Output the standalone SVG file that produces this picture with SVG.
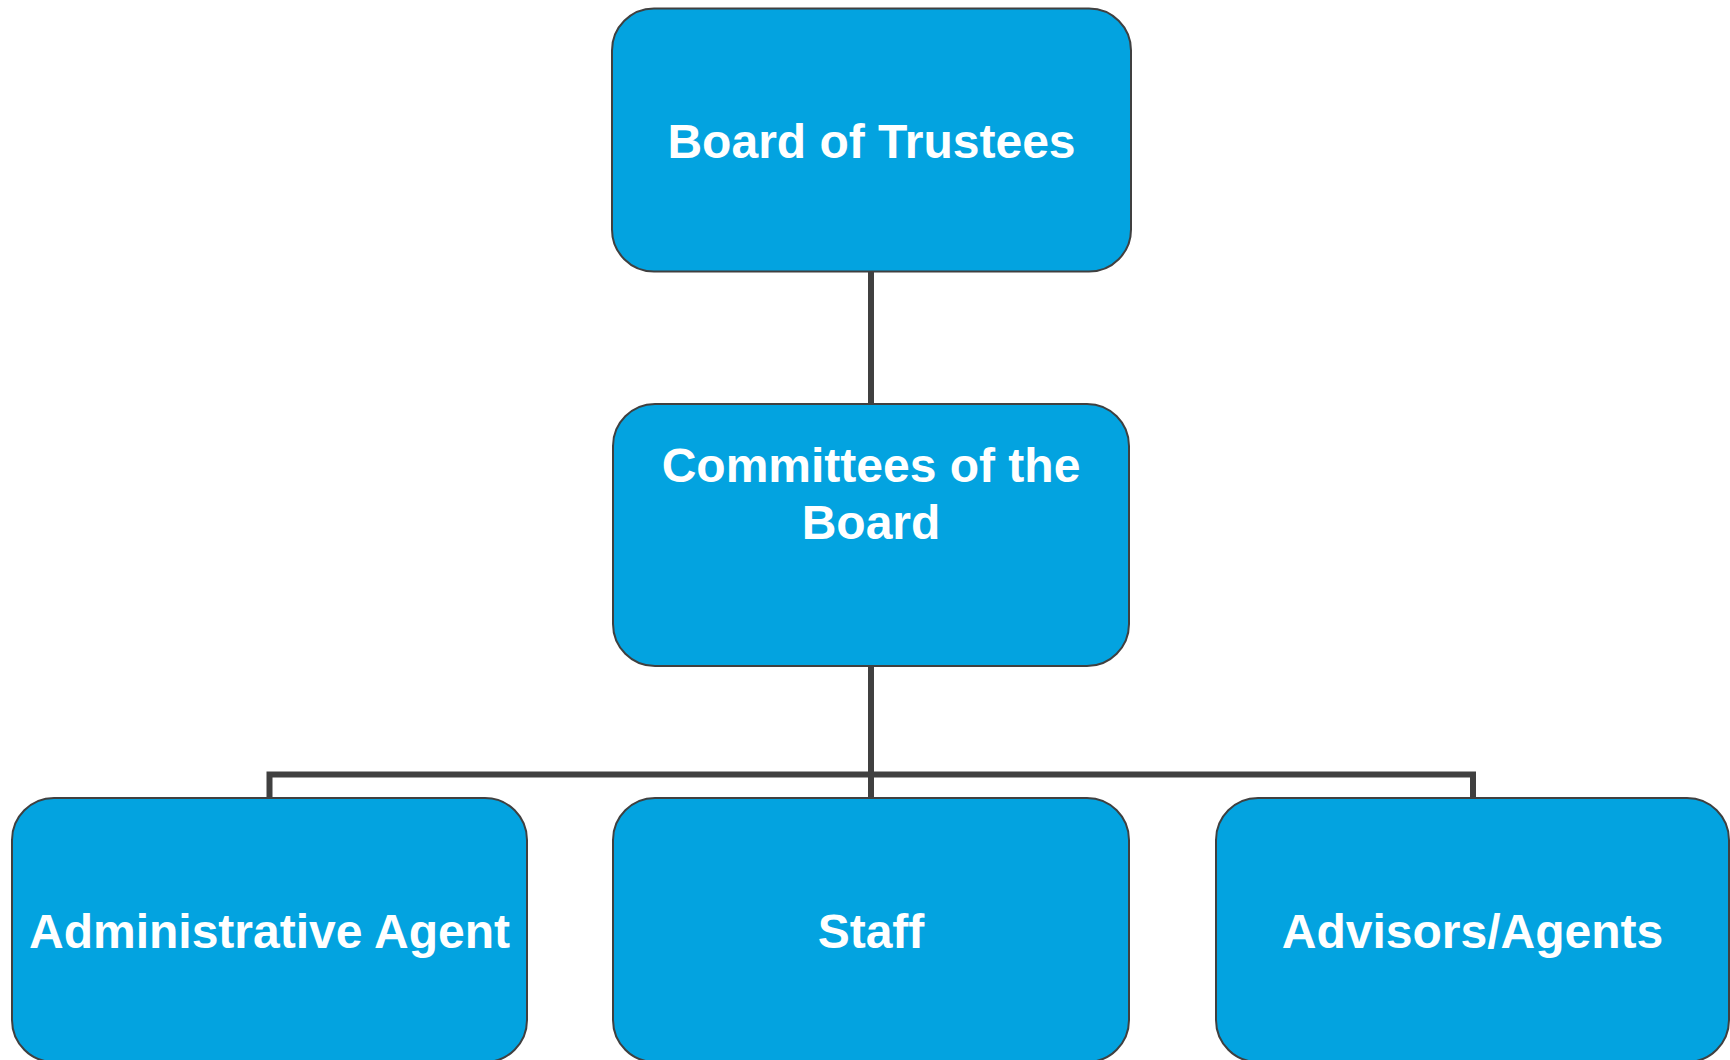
<svg xmlns="http://www.w3.org/2000/svg" width="1730" height="1060" viewBox="0 0 1730 1060">
  <style>
    .box { fill: #03a3e0; stroke: #404040; stroke-width: 2; }
    .label { font-family: "Liberation Sans", Arial, sans-serif; font-weight: bold; font-size: 48px; fill: #ffffff; text-anchor: middle; }
    .link { fill: none; stroke: #404040; stroke-width: 6; stroke-linejoin: miter; }
  </style>
  <rect width="1730" height="1060" fill="#ffffff"/>

  <!-- connectors -->
  <g id="connectors">
    <path class="link" d="M871,271 V404"/>
    <path class="link" d="M871,666 V798"/>
    <path class="link" d="M269.5,798 V774.5 H1473 V798"/>
  </g>

  <g id="board-of-trustees">
    <rect class="box" x="612" y="8.5" width="519" height="263" rx="42" ry="42"/>
    <text class="label" x="871.5" y="158">Board of Trustees</text>
  </g>

  <g id="committees">
    <rect class="box" x="613" y="404" width="516" height="262" rx="42" ry="42"/>
    <text class="label" x="871" y="482">Committees of the</text>
    <text class="label" x="871" y="539">Board</text>
  </g>

  <g id="administrative-agent">
    <rect class="box" x="12" y="798" width="515" height="264" rx="42" ry="42"/>
    <text class="label" x="269.5" y="948">Administrative Agent</text>
  </g>

  <g id="staff">
    <rect class="box" x="613" y="798" width="516" height="264" rx="42" ry="42"/>
    <text class="label" x="871" y="948">Staff</text>
  </g>

  <g id="advisors-agents">
    <rect class="box" x="1216" y="798" width="513" height="264" rx="42" ry="42"/>
    <text class="label" x="1472.5" y="948">Advisors/Agents</text>
  </g>
</svg>
